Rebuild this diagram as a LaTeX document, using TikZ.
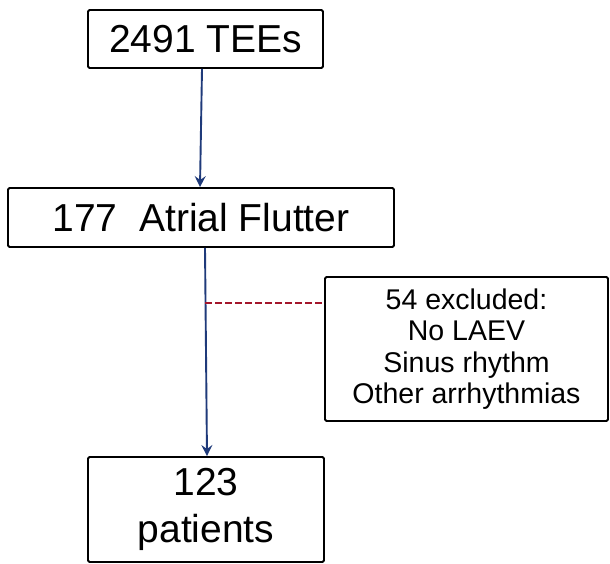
\documentclass[tikz,border=0pt]{standalone}
\usepackage{fontspec}
\setmainfont{Liberation Sans}
\usetikzlibrary{arrows.meta}
\definecolor{navy}{HTML}{1F3A7A}
\definecolor{dashred}{HTML}{A3162B}
\tikzset{
  box/.style={draw=black, line width=1.9pt, rounded corners=1.5pt, fill=white, inner sep=0pt, align=center},
  arr/.style={draw=navy, line width=1.9pt, -{Stealth[length=11pt,width=11pt,inset=4pt]}},
  excl/.style={draw=dashred, line width=1.8pt, dash pattern=on 6.5pt off 3.5pt},
}
\begin{document}
\begin{tikzpicture}[x=1pt,y=-1pt]
\useasboundingbox (0,0) rectangle (610,564);
\node[box, minimum width=235pt, minimum height=58pt, font=\fontsize{39}{47}\selectfont] (b1) at (205.5,39) {2491 TEEs};
\node[box, minimum width=386pt, minimum height=59pt, font=\fontsize{39}{47}\selectfont] (b2) at (201,217.5) {177\ \ Atrial Flutter};
\node[box, minimum width=283pt, minimum height=144pt, font=\fontsize{28.5}{31.5}\selectfont] (b3) at (466.5,349) {54 excluded:\\No LAEV\\Sinus rhythm\\Other arrhythmias};
\node[box, minimum width=236pt, minimum height=105pt, font=\fontsize{39}{47}\selectfont] (b4) at (206,509.5) {123\\patients};
\draw[arr] ([xshift=-3.5pt]b1.south) -- ([xshift=-1pt]b2.north);
\draw[arr] ([xshift=4pt]b2.south) -- ([xshift=1pt]b4.north);
\coordinate (d) at (205,303);
\draw[excl] (d) -- (d -| b3.west);
\end{tikzpicture}
\end{document}
